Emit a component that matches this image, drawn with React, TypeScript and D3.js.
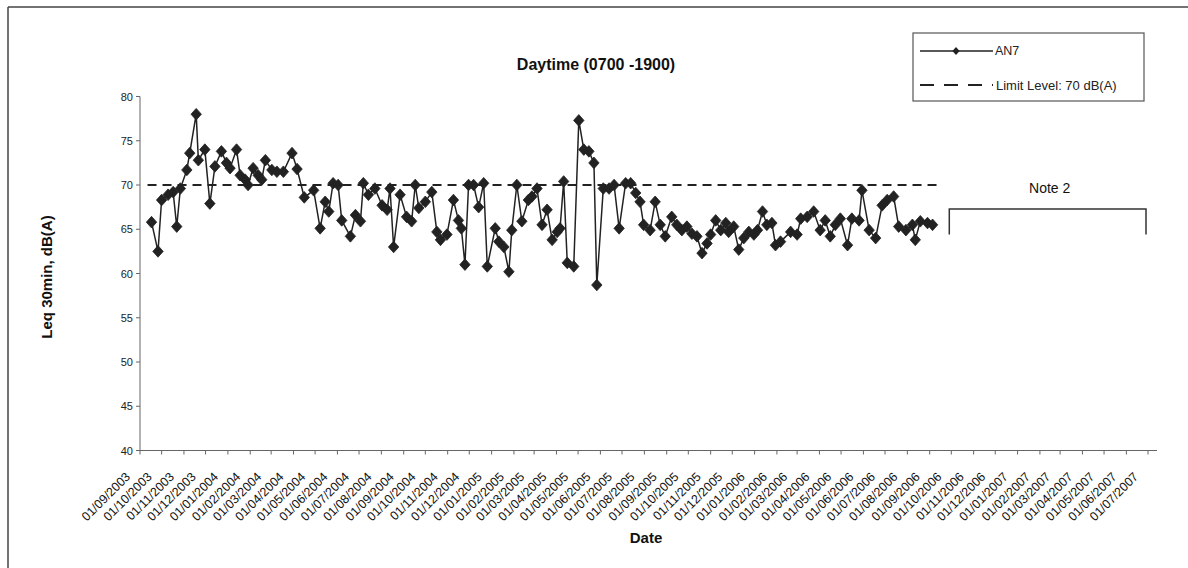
import React from "react";
import * as d3 from "d3";

// ---- data ----
const chartTitle = "Daytime (0700 -1900)";
const seriesName = "AN7";
const limitName = "Limit Level: 70 dB(A)";
const limitLevel = 70;
const axisStart = "2003-09-01";
const axisEnd = "2007-07-01";
const noteLabel = "Note 2";
const noteStart = "2006-10-01";
const noteEnd = "2007-07-01";
const noteLevel = 67.3;
const noteFloor = 64.4;
const yTicks = [40, 45, 50, 55, 60, 65, 70, 75, 80];

// day of each measurement, counted from 01/09/2003
const sampleDay = [
  16, 25, 30, 39, 46, 51, 56, 65, 69, 78, 81, 90, 97, 104, 113, 120, 125, 134, 139, 146,
  150, 157, 164, 169, 174, 183, 190, 199, 211, 218, 228, 241, 250, 257, 262, 268, 275, 280, 292, 299,
  306, 310, 317, 326, 336, 343, 347, 352, 361, 370, 377, 382, 387, 396, 405, 412, 417, 426, 435, 442,
  446, 451, 456, 463, 470, 477, 482, 493, 498, 505, 512, 516, 523, 530, 539, 544, 551, 558, 565, 572,
  579, 583, 588, 593, 602, 609, 616, 623, 630, 634, 643, 651, 658, 665, 674, 681, 688, 694, 699, 708,
  715, 722, 729, 738, 745, 752, 759, 766, 773, 780, 787, 792, 799, 806, 813, 817, 824, 831, 838, 845,
  852, 857, 864, 870, 877, 882, 889, 903, 912, 917, 926, 935, 944, 951, 958, 965, 972, 982, 988, 998,
  1002, 1012, 1021, 1030, 1037, 1046, 1053, 1063, 1072, 1076, 1083, 1093, 1100,
];
const leqValue = [
  65.8, 62.5, 68.3, 68.9, 69.2, 65.3, 69.6, 71.7, 73.6, 78.0, 72.8, 74.0, 67.9, 72.1, 73.8, 72.5, 71.9, 74.0, 71.1, 70.6,
  70.0, 71.9, 71.1, 70.6, 72.8, 71.7, 71.5, 71.5, 73.6, 71.8, 68.6, 69.4, 65.1, 68.1, 67.0, 70.2, 70.0, 66.0, 64.2, 66.6,
  65.9, 70.2, 68.9, 69.6, 67.7, 67.2, 69.6, 63.0, 68.9, 66.4, 65.9, 70.0, 67.4, 68.1, 69.2, 64.7, 63.8, 64.4, 68.3, 66.0,
  65.1, 61.0, 70.0, 70.0, 67.5, 70.2, 60.8, 65.1, 63.6, 63.0, 60.2, 64.9, 70.0, 65.9, 68.3, 68.7, 69.6, 65.5, 67.2, 63.8,
  64.7, 65.1, 70.4, 61.2, 60.8, 77.3, 74.0, 73.8, 72.5, 58.7, 69.6, 69.6, 70.0, 65.1, 70.2, 70.2, 69.1, 68.1, 65.5, 64.9,
  68.1, 65.5, 64.2, 66.4, 65.5, 64.9, 65.3, 64.5, 64.2, 62.3, 63.4, 64.4, 66.0, 64.9, 65.7, 64.7, 65.3, 62.7, 64.0, 64.7,
  64.4, 64.9, 67.0, 65.5, 65.7, 63.2, 63.6, 64.7, 64.4, 66.2, 66.4, 67.0, 64.9, 66.0, 64.2, 65.5, 66.2, 63.2, 66.2, 66.0,
  69.4, 64.9, 64.0, 67.7, 68.3, 68.7, 65.3, 64.9, 65.5, 63.8, 65.9, 65.7, 65.5,
];

const FONT = "'Liberation Sans', Arial, sans-serif";

export default function App() {
  const W = 1188;
  const H = 568;
  const start = new Date(axisStart + "T00:00:00Z");
  const end = new Date(axisEnd + "T00:00:00Z");
  const x = d3.scaleUtc().domain([start, end]).range([140, 1148]);
  const y = d3.scaleLinear().domain([40, 80]).range([450.5, 96.5]);

  const points = sampleDay.map((d, i) => ({
    date: d3.utcDay.offset(start, d),
    v: leqValue[i],
  }));
  const line = d3
    .line<{ date: Date; v: number }>()
    .x((p) => x(p.date))
    .y((p) => y(p.v));

  const months = d3.utcMonth.range(start, d3.utcMonth.offset(end, 1));
  const fmt = d3.utcFormat("%d/%m/%Y");
  const diamond = "M0,-5.8L5.2,0L0,5.8L-5.2,0Z";
  const smallDiamond = "M0,-4L3.6,0L0,4L-3.6,0Z";

  const x0 = x(start);
  const x1 = x(end);
  const yBase = y(40);
  const firstDate = points[0].date;
  const lastDate = points[points.length - 1].date;
  const nS = new Date(noteStart + "T00:00:00Z");
  const nE = new Date(noteEnd + "T00:00:00Z");

  return (
    <svg
      width={W}
      height={H}
      style={{ position: "absolute", left: 0, top: 0, background: "#fff" }}
      fontFamily={FONT}
    >
      <rect x={0} y={0} width={W} height={H} fill="#fff" />
      {/* outer frame */}
      <line x1={8} y1={7} x2={W} y2={7} stroke="#444" strokeWidth={1.5} />
      <line x1={8} y1={7} x2={8} y2={H} stroke="#444" strokeWidth={1.5} />

      {/* title */}
      <text x={596} y={70} textAnchor="middle" fontSize={16} fontWeight="bold" fill="#111">
        {chartTitle}
      </text>

      {/* y axis */}
      <line x1={x0} y1={y(80)} x2={x0} y2={yBase} stroke="#666" strokeWidth={1} />
      {yTicks.map((t) => (
        <g key={t}>
          <line x1={x0 - 4} x2={x0} y1={y(t)} y2={y(t)} stroke="#666" />
          <text x={x0 - 7} y={y(t) + 4} textAnchor="end" fontSize={11} fill="#222">
            {t}
          </text>
        </g>
      ))}
      <text
        transform={`translate(52,277) rotate(-90)`}
        textAnchor="middle"
        fontSize={15}
        fontWeight="bold"
        fill="#111"
      >
        Leq 30min, dB(A)
      </text>

      {/* x axis */}
      <line x1={x0} y1={yBase} x2={x1 + 9} y2={yBase} stroke="#666" strokeWidth={1} />
      {months.map((m) => (
        <g key={m.toISOString()}>
          <line x1={x(m)} x2={x(m)} y1={yBase} y2={yBase + 4} stroke="#666" />
          <text
            transform={`translate(${x(m) - 9},${yBase + 27}) rotate(-45)`}
            textAnchor="end"
            fontSize={12.5}
            fill="#111"
          >
            {fmt(m)}
          </text>
        </g>
      ))}
      <text x={646} y={543} textAnchor="middle" fontSize={15} fontWeight="bold" fill="#111">
        Date
      </text>

      {/* limit line */}
      <line
        x1={x(firstDate) - 4}
        x2={x(lastDate) + 8}
        y1={y(limitLevel)}
        y2={y(limitLevel)}
        stroke="#222"
        strokeWidth={2}
        strokeDasharray="9,6"
      />

      {/* series */}
      <path d={line(points) || ""} fill="none" stroke="#222" strokeWidth={1.5} />
      {points.map((p, i) => (
        <path key={i} d={diamond} transform={`translate(${x(p.date)},${y(p.v)})`} fill="#222" stroke="#222" strokeWidth={0.8} />
      ))}

      {/* note 2 bracket */}
      <path
        d={`M${x(nS) - 2},${y(noteFloor)} V${y(noteLevel)} H${x(nE) - 2} V${y(noteFloor)}`}
        fill="none"
        stroke="#333"
        strokeWidth={1.5}
      />
      <text x={(x(nS) + x(nE)) / 2} y={193} textAnchor="middle" fontSize={14} fill="#111">
        {noteLabel}
      </text>

      {/* legend */}
      <rect x={913} y={33} width={231} height={68} fill="#fff" stroke="#555" strokeWidth={1.2} />
      <line x1={920} x2={993} y1={51} y2={51} stroke="#222" strokeWidth={1.5} />
      <path d={smallDiamond} transform="translate(956,51)" fill="#222" />
      <text x={995} y={55} fontSize={12.5} fill="#222">
        {seriesName}
      </text>
      <line x1={920} x2={993} y1={85} y2={85} stroke="#222" strokeWidth={2} strokeDasharray="14,10" />
      <text x={996} y={89.5} fontSize={13} fill="#222">
        {limitName}
      </text>
    </svg>
  );
}
